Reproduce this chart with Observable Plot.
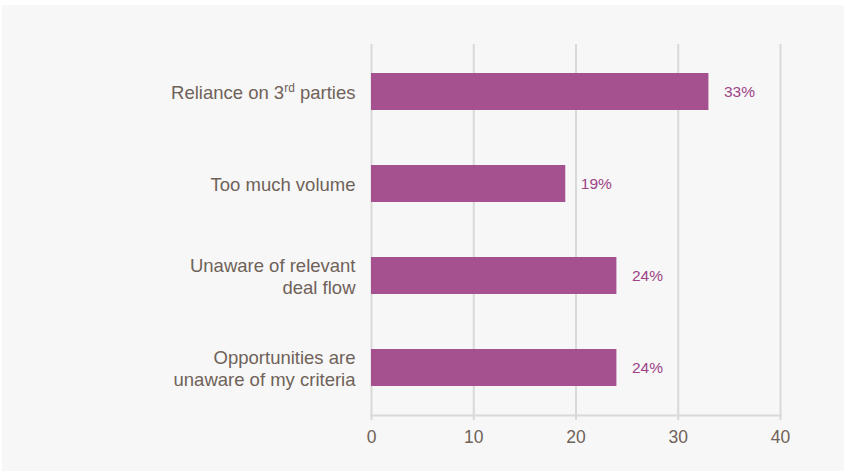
<!DOCTYPE html>
<html>
<head>
<meta charset="utf-8">
<script src="https://cdn.jsdelivr.net/npm/d3@7"></script>
<script src="https://cdn.jsdelivr.net/npm/@observablehq/plot@0.6"></script>
<style>
  html, body { margin: 0; padding: 0; background: #ffffff; }
  #wrap { position: relative; width: 844px; height: 475px; overflow: hidden; }
  #panel { position: absolute; left: 2px; top: 5px; width: 842px; height: 466px; background: #f7f7f7; }
  #chart { position: absolute; left: 0; top: 0; }
  #chart svg { background: transparent; }
</style>
</head>
<body>
<div id="wrap"><div id="panel"></div><div id="chart"></div></div>
<script>
const categories = [
  "Reliance on 3rd parties",
  "Too much volume",
  "Unaware of relevant\ndeal flow",
  "Opportunities are\nunaware of my criteria"
];
const values = [33, 19, 24, 24];
const xTicks = [0, 10, 20, 30, 40];

const data = categories.map((c, i) => ({category: c, value: values[i]}));

const textColor = "#6f6259";
const barColor = "#a5508f";
const labelColor = "#9c4388";
const gridColor = "#d9d9d9";

const chart = Plot.plot({
  width: 844,
  height: 475,
  marginLeft: 371,
  marginRight: 64,
  marginTop: 44,
  marginBottom: 60,
  style: {background: "transparent", fontFamily: "'Liberation Sans', Arial, sans-serif"},
  x: {domain: [0, 40], ticks: xTicks, label: null},
  y: {domain: categories, paddingInner: 0.6, paddingOuter: 0.3, label: null},
  marks: [
    Plot.ruleX(xTicks, {stroke: gridColor, strokeWidth: 2, strokeOpacity: 1}),
    Plot.frame({anchor: "bottom", stroke: gridColor, strokeWidth: 2, strokeOpacity: 1}),
    Plot.barX(data, {x: "value", y: "category", fill: barColor}),
    Plot.text(data, {x: "value", y: "category", text: d => d.value + "%", textAnchor: "start", dx: 15, fill: labelColor, fontSize: 15.5}),
    Plot.axisX({ticks: xTicks, label: null, tickSize: 5, tickPadding: 10, fontSize: 17.5, color: textColor, stroke: gridColor, strokeWidth: 2, strokeOpacity: 1}),
    Plot.axisY({label: null, tickSize: 0, tickPadding: 16, fontSize: 18.5, color: textColor, lineHeight: 1.2, textAnchor: "end"})
  ]
});

// superscript for "3rd"
d3.select(chart).selectAll("text").each(function() {
  const t = d3.select(this);
  if (t.text() === "Reliance on 3rd parties") {
    t.text("");
    t.append("tspan").text("Reliance on 3");
    t.append("tspan").attr("baseline-shift", "super").attr("font-size", "12").text("rd");
    t.append("tspan").text(" parties");
  }
});

document.getElementById("chart").appendChild(chart);
</script>
</body>
</html>
